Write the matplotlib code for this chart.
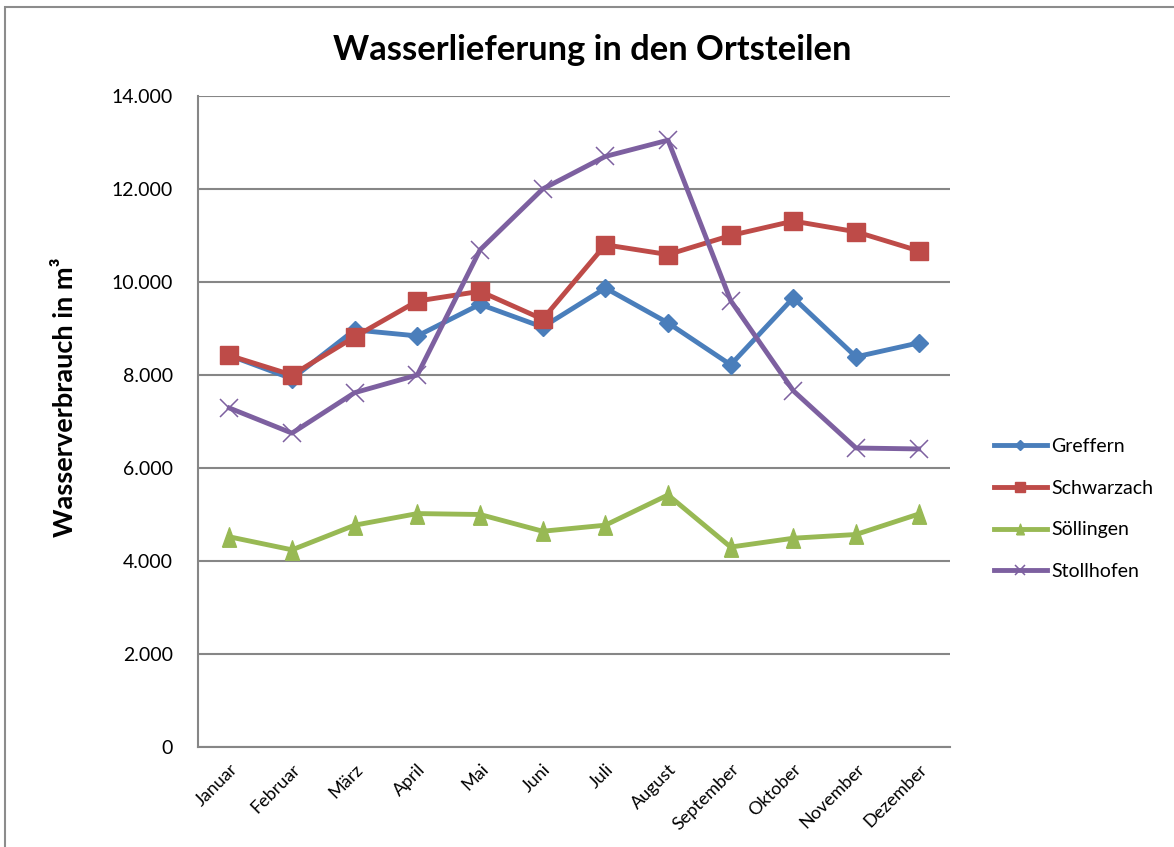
import matplotlib
matplotlib.use("Agg")
import matplotlib.pyplot as plt
from matplotlib.patches import Rectangle
from matplotlib.ticker import FuncFormatter

months = ["Januar", "Februar", "März", "April", "Mai", "Juni", "Juli",
          "August", "September", "Oktober", "November", "Dezember"]
greffern = [8420, 7920, 8970, 8840, 9520, 9030, 9870, 9120, 8220, 9660, 8390, 8690]
schwarzach = [8420, 8000, 8820, 9590, 9800, 9200, 10800, 10590, 11000, 11310, 11080, 10670]
soellingen = [4520, 4240, 4770, 5020, 5000, 4640, 4770, 5420, 4300, 4490, 4570, 5010]
stollhofen = [7290, 6750, 7620, 8000, 10690, 12000, 12700, 13050, 9600, 7660, 6430, 6410]

plt.rcParams['font.family'] = ['Lato', 'DejaVu Sans']

fig = plt.figure(figsize=(11.74, 8.47), dpi=100)
fig.patches.append(Rectangle((5/1174, -0.01), 1.02, 1 - 7/847 + 0.01, transform=fig.transFigure,
                             fill=False, edgecolor='#8c8c8c', linewidth=1.5))
ax = fig.add_axes([198/1174, 1 - 747/847, (950 - 198)/1174, (747 - 96)/847])

tall_tri = [(-0.36, -0.5), (0.36, -0.5), (0, 0.5), (-0.36, -0.5)]

x = list(range(len(months)))
lw = 3.5
ax.plot(x, greffern, color='#4A7EBB', lw=lw, marker='D', markersize=9.5, label='Greffern', zorder=3)
ax.plot(x, schwarzach, color='#BE4B48', lw=lw, marker='s', markersize=13.5, label='Schwarzach', zorder=4)
ax.plot(x, soellingen, color='#98B954', lw=lw, marker=tall_tri, markersize=14, label='Söllingen', zorder=3)
ax.plot(x, stollhofen, color='#7D60A0', lw=lw, marker='x', markersize=13, markeredgewidth=1.1,
        label='Stollhofen', zorder=5)

ax.set_xlim(-0.5, 11.5)
ax.set_ylim(0, 14000)
ax.set_yticks(range(0, 14001, 2000))
ax.yaxis.set_major_formatter(FuncFormatter(lambda v, p: "0" if v == 0 else f"{int(v):,}".replace(",", ".")))
ax.set_xticks(x)
ax.set_xticklabels(months, rotation=45, ha='right', rotation_mode='anchor', fontsize=13)
ax.tick_params(axis='y', labelsize=14, length=0, pad=18)
ax.tick_params(axis='x', length=0, pad=10)
ax.grid(axis='y', color='#868686', linewidth=1.5)
ax.set_axisbelow(True)
for s in ['top', 'right']:
    ax.spines[s].set_visible(False)
ax.spines['left'].set_color('#868686')
ax.spines['left'].set_linewidth(1.5)
ax.spines['bottom'].set_color('#868686')
ax.spines['bottom'].set_linewidth(1.5)

ax.text(65/1174, 1 - 397/847, "Wasserverbrauch in m³", transform=fig.transFigure,
        fontsize=19.5, fontweight='bold', rotation=90, ha='center', va='center')
fig.text(592/1174, 1 - 50/847, "Wasserlieferung in den Ortsteilen", fontsize=24.8,
         fontweight='bold', ha='center', va='center')

leg = ax.legend(loc='center left', bbox_to_anchor=(976/1174, 1 - 509/847),
                bbox_transform=fig.transFigure, frameon=False, fontsize=14,
                handlelength=2.75, labelspacing=1.27, handletextpad=0.2, markerscale=0.55)

fig.savefig("out.png", dpi=100)
